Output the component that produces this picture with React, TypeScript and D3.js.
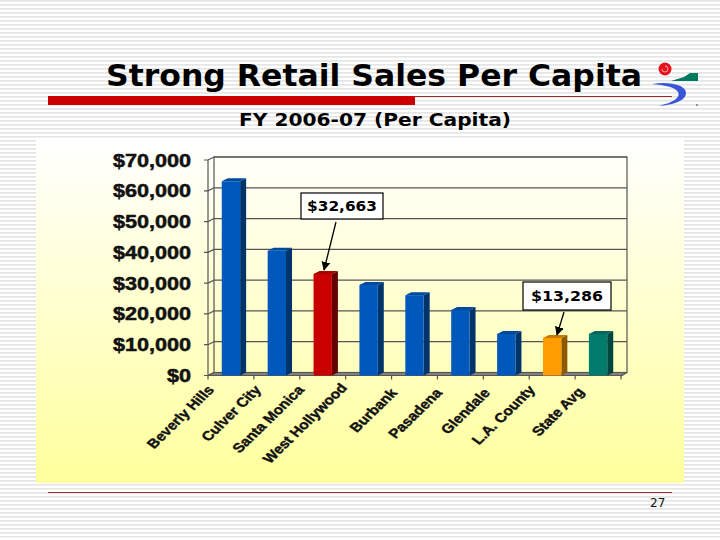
import React from "react";
import * as d3 from "d3";

const categories = ["Beverly Hills", "Culver City", "Santa Monica", "West Hollywood", "Burbank", "Pasadena", "Glendale", "L.A. County", "State Avg"];
const values = [63100, 40500, 33000, 29400, 26100, 21300, 13500, 12200, 13500];
const yTicks = [0, 10000, 20000, 30000, 40000, 50000, 60000, 70000];
const barColors = ["blue", "blue", "red", "blue", "blue", "blue", "blue", "orange", "teal"];

const shades: Record<string, { front: string; side: string; top: string }> = {
  blue: { front: "#0058bd", side: "#00346b", top: "#004a9c" },
  red: { front: "#c80000", side: "#640000", top: "#a80000" },
  orange: { front: "#ff9c00", side: "#8c5a00", top: "#c87a00" },
  teal: { front: "#007b6e", side: "#00453e", top: "#00665c" },
};

const width = 720;
const height = 540;
const dx = 6;
const dy = -3;
const wallRight = 621;

const x = d3.scaleBand<string>().domain(categories).range([208, wallRight]).paddingInner(0.6).paddingOuter(0.3);
const y = d3.scaleLinear([0, 70000], [375.5, 160]);
const fmt = d3.format("$,");

// where each rotated label ends, [x, y]
const labelEnds = [[209, 386], [256, 386], [299, 386], [342, 384], [392, 389], [437, 389], [485, 389], [530, 386], [579, 388]];
const xTicks = d3.range(categories.length + 1).map((i) => 208 + (i * (wallRight - 208)) / categories.length);
const stripes = d3.range(0.8, height, 4);

const App = () => {
  const y0 = y(0);
  const yTop = y(70000);
  return (
    <svg width={width} height={height} style={{ position: "absolute", left: 0, top: 0 }}>
      <defs>
        <linearGradient id="panel" x1="0" y1="0" x2="0" y2="1">
          <stop offset="0" stopColor="#ffffff" />
          <stop offset="1" stopColor="#ffff9c" />
        </linearGradient>
        <marker id="arrow" viewBox="0 0 10 10" refX="9" refY="5" markerWidth="9" markerHeight="9" markerUnits="userSpaceOnUse" orient="auto">
          <path d="M0,0L10,5L0,10z" fill="#000" />
        </marker>
      </defs>
      <rect width={width} height={height} fill="#fff" />
      {stripes.map((s) => (
        <line key={s} x1={0} x2={width} y1={s} y2={s} stroke="#dcdcdc" strokeWidth={1.3} />
      ))}

      <text x={106} y={86} fontFamily="DejaVu Sans" fontWeight="bold" fontSize={30} textLength={536} lengthAdjust="spacingAndGlyphs">
        Strong Retail Sales Per Capita
      </text>
      <line x1={415} x2={672} y1={96.5} y2={96.5} stroke="#9c2a2a" strokeWidth={1} />
      <rect x={48} y={96} width={367} height={9} fill="#cc0000" />
      <text x={239} y={126} fontFamily="DejaVu Sans" fontWeight="bold" fontSize={17.5} textLength={272} lengthAdjust="spacingAndGlyphs">
        FY 2006-07 (Per Capita)
      </text>

      {/* logo */}
      <circle cx={665} cy={69} r={6.5} fill="#e8101c" />
      <path d="M662,69a3,3 0 1 0 3,-3" fill="none" stroke="#f8c8c8" strokeWidth={0.8} />
      <path d="M671,81L684,77L690,73L698,73L698,81z" fill="#007a5e" />
      <path d="M652,84C672,81 686,86 686,93C686,100 675,105 658,106C672,103 681,98 678,92C675,87 664,85 652,84z" fill="#3a55d8" />
      <circle cx={697} cy={105} r={1} fill="#777" />

      <rect x={36} y={138} width={648} height={345} fill="url(#panel)" />

      {/* walls */}
      <rect x={208 + dx} y={yTop + dy} width={wallRight - 208} height={y0 - yTop} fill="none" stroke="#555" strokeWidth={1.2} />
      <path d={`M208,${y0}L${208 + dx},${y0 + dy}H${wallRight + dx}L${wallRight},${y0}z`} fill="#808080" stroke="#555" />
      <line x1={208} x2={208} y1={yTop} y2={y0} stroke="#555" strokeWidth={1.2} />
      <line x1={208} x2={wallRight} y1={y0} y2={y0} stroke="#555" strokeWidth={1.2} />
      {yTicks.map((t) => (
        <g key={t} stroke="#555" strokeWidth={1.2} fill="none">
          <path d={`M204,${y(t)}H208L${208 + dx},${y(t) + dy}H${wallRight + dx}`} />
        </g>
      ))}
      <line x1={wallRight} x2={wallRight + dx} y1={y0 + 1} y2={y0 + dy} stroke="#555" />
      {xTicks.map((t) => (
        <line key={t} x1={t} x2={t} y1={y0} y2={y0 + 4} stroke="#555" strokeWidth={1.2} />
      ))}

      {/* bars */}
      {categories.map((c, i) => {
        const bx = x(c)!;
        const bw = x.bandwidth();
        const by = y(values[i]);
        const col = shades[barColors[i]];
        return (
          <g key={c}>
            <path d={`M${bx + bw},${by}l${dx},${dy}V${y0 + dy}l${-dx},${-dy}z`} fill={col.side} />
            <path d={`M${bx},${by}l${dx},${dy}h${bw}l${-dx},${-dy}z`} fill={col.top} />
            <rect x={bx} y={by} width={bw} height={y0 - by} fill={col.front} />
          </g>
        );
      })}

      {/* value axis labels */}
      {yTicks.map((t) => (
        <text
          key={t}
          transform={`translate(191,${y(t) + 6.5}) scale(1.2,1)`}
          textAnchor="end"
          fontFamily="Liberation Sans"
          fontWeight="bold"
          fontSize={18}
          fill="#111"
          stroke="#111"
          strokeWidth={0.5}
        >
          {fmt(t)}
        </text>
      ))}

      {/* category labels, stretched sideways after rotating like the value labels */}
      {categories.map((c, i) => (
        <text
          key={c}
          transform={`translate(${labelEnds[i][0]},${labelEnds[i][1]}) scale(1.2,1) rotate(-49.5)`}
          textAnchor="end"
          dominantBaseline="hanging"
          fontFamily="Liberation Sans"
          fontWeight="bold"
          fontSize={13}
          fill="#111"
          stroke="#111"
          strokeWidth={0.4}
          dy={-3}
        >
          {c}
        </text>
      ))}

      {/* callouts */}
      <rect x={301} y={193} width={82} height={26} fill="#fff" stroke="#000" strokeWidth={1.2} />
      <text x={342} y={211} textAnchor="middle" fontFamily="DejaVu Sans" fontWeight="bold" fontSize={14.5} textLength={70} lengthAdjust="spacingAndGlyphs">
        $32,663
      </text>
      <line x1={336} y1={222} x2={324} y2={270} stroke="#000" strokeWidth={1.3} markerEnd="url(#arrow)" />
      <rect x={523} y={282} width={88} height={28} fill="#fff" stroke="#000" strokeWidth={1.2} />
      <text x={567} y={301} textAnchor="middle" fontFamily="DejaVu Sans" fontWeight="bold" fontSize={14.5} textLength={72} lengthAdjust="spacingAndGlyphs">
        $13,286
      </text>
      <line x1={564} y1={312} x2={557} y2={335} stroke="#000" strokeWidth={1.3} markerEnd="url(#arrow)" />

      <line x1={48} x2={672} y1={492.5} y2={492.5} stroke="#9c2a2a" strokeWidth={1} />
      <text x={650} y={507} fontFamily="DejaVu Sans" fontSize={12} fill="#111">
        27
      </text>
    </svg>
  );
};

export default App;
